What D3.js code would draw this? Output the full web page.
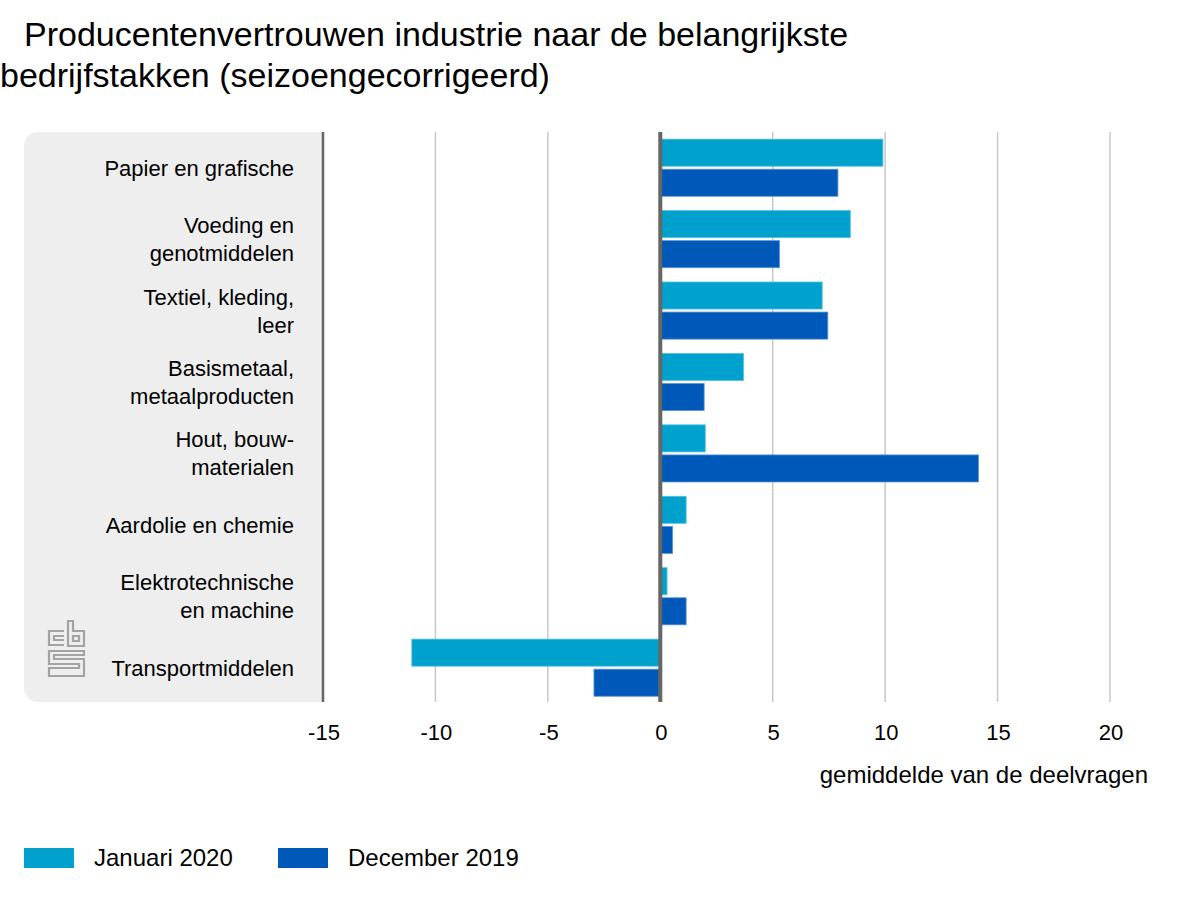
<!DOCTYPE html>
<html>
<head>
<meta charset="utf-8">
<script src="https://cdn.jsdelivr.net/npm/d3@7"></script>
<style>
  html, body { margin: 0; padding: 0; background: #fff; }
  svg { display: block; }
  text { font-family: "Liberation Sans", Arial, sans-serif; fill: #000; }
</style>
</head>
<body>
<div id="chart"></div>
<script>
'use strict';

var categories = ['Papier en grafische', 'Voeding en\ngenotmiddelen', 'Textiel, kleding,\nleer',
  'Basismetaal,\nmetaalproducten', 'Hout, bouw-\nmaterialen', 'Aardolie en chemie',
  'Elektrotechnische\nen machine', 'Transportmiddelen'];
var januari = [9.9, 8.45, 7.2, 3.7, 2.0, 1.15, 0.3, -11.05];
var december = [7.9, 5.3, 7.45, 1.95, 14.15, 0.55, 1.15, -2.95];
var seriesNames = ['Januari 2020', 'December 2019'];
var xTicks = [-15, -10, -5, 0, 5, 10, 15, 20];
var titleLines = ['Producentenvertrouwen industrie naar de belangrijkste', 'bedrijfstakken (seizoengecorrigeerd)'];
var axisTitle = 'gemiddelde van de deelvragen';

var colors = ['#00a1cd', '#0058b8'];
var strokes = ['#53c3e0', '#5c93d6'];

var svg = d3.select('#chart').append('svg')
  .attr('width', 1200)
  .attr('height', 900);

var x = d3.scaleLinear().domain([-15, 20]).range([323, 1110]);
var y = d3.scaleBand().domain(categories).range([132, 703.4]).paddingInner(0.2).paddingOuter(0.1);
var y2 = d3.scaleBand().domain([0, 1]).range([0, y.bandwidth()]).paddingInner(0.1);

// title
svg.append('text').attr('x', 24).attr('y', 46).attr('font-size', 34).text(titleLines[0]);
svg.append('text').attr('x', 0).attr('y', 87).attr('font-size', 34).text(titleLines[1]);

// grey label panel, rounded on the left only
svg.append('path')
  .attr('d', 'M323,132H38a14,14 0 0 0 -14,14V688a14,14 0 0 0 14,14H323Z')
  .attr('fill', '#eeeeee');

// grid
svg.append('g').selectAll('line')
  .data(xTicks.filter(function (d) { return d !== -15 && d !== 0; }))
  .enter().append('line')
  .attr('x1', x).attr('x2', x)
  .attr('y1', 132).attr('y2', 702)
  .attr('stroke', '#c8c8c8')
  .attr('stroke-width', 1.5);

// bars
var groups = svg.append('g').selectAll('g')
  .data(categories)
  .enter().append('g')
  .attr('transform', function (d) { return 'translate(0,' + y(d) + ')'; });

[januari, december].forEach(function (values, s) {
  groups.append('rect')
    .attr('x', function (d, i) { return Math.min(x(0), x(values[i])); })
    .attr('y', y2(s))
    .attr('width', function (d, i) { return Math.abs(x(values[i]) - x(0)); })
    .attr('height', y2.bandwidth())
    .attr('fill', colors[s])
    .attr('stroke', strokes[s])
    .attr('stroke-width', 0.8);
});

// axis lines at -15 and 0
svg.append('line').attr('x1', x(-15)).attr('x2', x(-15)).attr('y1', 132).attr('y2', 702)
  .attr('stroke', '#666').attr('stroke-width', 2.5);
svg.append('line').attr('x1', x(0)).attr('x2', x(0)).attr('y1', 132).attr('y2', 702)
  .attr('stroke', '#666').attr('stroke-width', 4);

// category labels
groups.each(function (d) {
  var lines = d.split('\n');
  var mid = y.bandwidth() / 2;
  d3.select(this).selectAll('text')
    .data(lines)
    .enter().append('text')
    .attr('x', 294)
    .attr('y', function (l, i) { return mid + 8 + (i - (lines.length - 1) / 2) * 28; })
    .attr('text-anchor', 'end')
    .attr('font-size', 22)
    .text(function (l) { return l; });
});

// x axis
var xAxis = d3.axisBottom(x).tickValues(xTicks).tickSize(0).tickPadding(0).tickFormat(function (d) { return String(d); });
var axisG = svg.append('g').attr('transform', 'translate(0.5,724.5)').call(xAxis);
axisG.select('.domain').remove();
axisG.selectAll('text')
  .attr('font-size', 22)
  .attr('font-family', '"Liberation Sans", Arial, sans-serif')
  .style('fill', '#000');

svg.append('text').attr('x', 1148).attr('y', 783).attr('text-anchor', 'end').attr('font-size', 24).text(axisTitle);

// legend
var legendX = [24, 278];
seriesNames.forEach(function (name, s) {
  svg.append('rect').attr('x', legendX[s]).attr('y', 848).attr('width', 50).attr('height', 20).attr('fill', colors[s]);
  svg.append('text').attr('x', legendX[s] + 70).attr('y', 866).attr('font-size', 24).text(name);
});

// cbs logo
var logo = svg.append('g').attr('fill', 'none').attr('stroke', '#a3a3a3').attr('stroke-width', 2.2);
logo.append('path').attr('d', 'M64,631H49V645H64M64,636H54V640H64');
logo.append('path').attr('d', 'M68,621H73V631H84V646H68ZM73,636H79V641H73Z');
logo.append('path').attr('d', 'M84,651H49V664H79V668H49V676H84V659H54V655H84Z');
</script>
</body>
</html>
